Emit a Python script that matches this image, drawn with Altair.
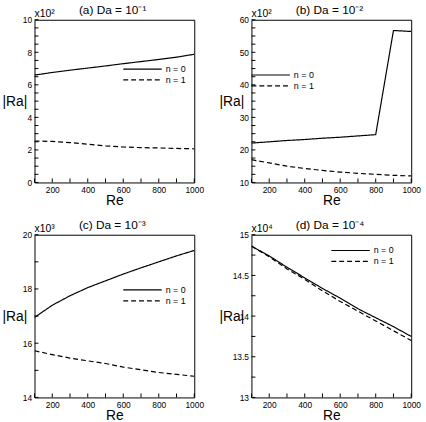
import altair as alt
import pandas as pd

FONT = "Liberation Sans"
W, H = 162, 165

re_vals = [100, 200, 300, 400, 500, 600, 700, 800, 900, 1000]

# (a) Da = 10^-1, |Ra| x10^2
a_n0 = [6.60, 6.76, 6.90, 7.03, 7.16, 7.30, 7.43, 7.56, 7.70, 7.88]
a_n1 = [2.55, 2.52, 2.45, 2.35, 2.25, 2.18, 2.14, 2.12, 2.09, 2.07]
# (b) Da = 10^-2, |Ra| x10^2
b_n0 = [22.1, 22.5, 22.9, 23.2, 23.6, 23.9, 24.3, 24.7, 56.7, 56.4]
b_n1 = [17.0, 16.0, 15.0, 14.3, 13.7, 13.2, 12.8, 12.5, 12.2, 12.0]
# (c) Da = 10^-3, |Ra| x10^3
c_n0 = [16.95, 17.40, 17.75, 18.05, 18.30, 18.55, 18.78, 19.00, 19.22, 19.42]
c_n1 = [15.72, 15.58, 15.45, 15.35, 15.25, 15.12, 15.02, 14.92, 14.85, 14.78]
# (d) Da = 10^-4, |Ra| x10^4
d_n0 = [14.86, 14.74, 14.60, 14.47, 14.34, 14.22, 14.09, 13.98, 13.87, 13.75]
d_n1 = [14.86, 14.73, 14.58, 14.45, 14.31, 14.18, 14.06, 13.94, 13.82, 13.70]

series_names = ["n = 0", "n = 1"]
x_major = [200, 400, 600, 800, 1000]
x_minor = [100, 200, 300, 400, 500, 600, 700, 800, 900, 1000]
DASH = {"n = 0": [1, 0], "n = 1": [5, 3]}


def frange(a, b, s):
    out = []
    v = a
    while v <= b + 1e-9:
        out.append(round(v, 4))
        v += s
    return out


def panel(n0, n1, ydom, ymajor, ystep_minor, title, mult, lx, ly):
    df = pd.DataFrame({
        "Re": re_vals * 2,
        "Ra": n0 + n1,
        "n": [series_names[0]] * len(re_vals) + [series_names[1]] * len(re_vals),
    })
    xscale = alt.Scale(domain=[100, 1000], nice=False, zero=False)
    yscale = alt.Scale(domain=ydom, nice=False, zero=False)
    xaxis = alt.Axis(
        values=x_major, title="Re", ticks=False, domain=False, grid=False,
        format="d", labelFontSize=8.5, labelFont=FONT, labelColor="black",
        labelPadding=3, labelFlush=False, titleFont=FONT, titleFontSize=14,
        titleFontWeight="normal", titleColor="black", titlePadding=0)
    yaxis = alt.Axis(
        values=ymajor, title="|Ra|", ticks=False, domain=False, grid=False,
        format="~f", labelFontSize=8.5, labelFont=FONT, labelColor="black",
        labelPadding=3, labelFlush=False, titleFont=FONT, titleFontSize=14,
        titleFontWeight="normal", titleColor="black", titleAngle=0,
        titleAlign="left", titleBaseline="middle", titleX=-33, titleY=H / 2)
    lines = alt.Chart(df).mark_line(color="black", strokeWidth=1.2, clip=True).encode(
        x=alt.X("Re:Q", scale=xscale, axis=xaxis),
        y=alt.Y("Ra:Q", scale=yscale, axis=yaxis),
        strokeDash=alt.StrokeDash("n:N", scale=alt.Scale(
            domain=series_names, range=[DASH[s] for s in series_names]), legend=None),
    )
    yt = pd.DataFrame({"Ra": frange(ydom[0], ydom[1], ystep_minor)})
    ytick = alt.Chart(yt).mark_rule(color="black", strokeWidth=1).encode(
        y=alt.Y("Ra:Q", scale=yscale, axis=yaxis), x=alt.value(0), x2=alt.value(4))
    xt = pd.DataFrame({"Re": x_minor})
    xtick = alt.Chart(xt).mark_rule(color="black", strokeWidth=1).encode(
        x=alt.X("Re:Q", scale=xscale, axis=xaxis), y=alt.value(H), y2=alt.value(H - 4))
    ttl = alt.Chart(pd.DataFrame({"t": [title]})).mark_text(
        align="left", baseline="alphabetic", fontSize=12, font=FONT, color="black"
    ).encode(x=alt.value(45), y=alt.value(-6), text="t:N")
    mul = alt.Chart(pd.DataFrame({"t": [mult]})).mark_text(
        align="left", baseline="alphabetic", fontSize=10.5, font=FONT, color="black"
    ).encode(x=alt.value(0), y=alt.value(-3), text="t:N")
    layers = [lines, ytick, xtick, ttl, mul]
    for i, s in enumerate(series_names):
        yy = ly + 11 * i
        layers.append(alt.Chart(pd.DataFrame({"t": [s]})).mark_rule(
            color="black", strokeWidth=1.2, strokeDash=DASH[s]).encode(
            x=alt.value(lx), x2=alt.value(lx + 39), y=alt.value(yy)))
        layers.append(alt.Chart(pd.DataFrame({"t": [s]})).mark_text(
            align="left", baseline="middle", fontSize=9, font=FONT, color="black"
        ).encode(x=alt.value(lx + 43), y=alt.value(yy), text="t:N"))
    return alt.layer(*layers).properties(width=W, height=H)


pa = panel(a_n0, a_n1, [0, 10], [0, 2, 4, 6, 8, 10], 0.5, "(a) Da = 10⁻¹", "x10²", 90, 50)
pb = panel(b_n0, b_n1, [10, 60], [10, 20, 30, 40, 50, 60], 2.5, "(b) Da = 10⁻²", "x10²", 0, 56)
pc = panel(c_n0, c_n1, [14, 20], [14, 16, 18, 20], 1, "(c) Da = 10⁻³", "x10³", 90, 56)
pd_ = panel(d_n0, d_n1, [13, 15], [13, 13.5, 14, 14.5, 15], 0.25, "(d) Da = 10⁻⁴", "x10⁴", 81, 16)

chart = alt.ConcatChart(
    concat=[pa, pb, pc, pd_], columns=2, spacing={"row": 53, "column": 58}, bounds="flush"
).properties(
    padding={"left": 1, "top": 0, "right": 5, "bottom": 5}, background="white"
).configure_view(stroke="black", strokeWidth=1)

chart.save("out.html", embed_options={"renderer": "svg", "actions": False})
